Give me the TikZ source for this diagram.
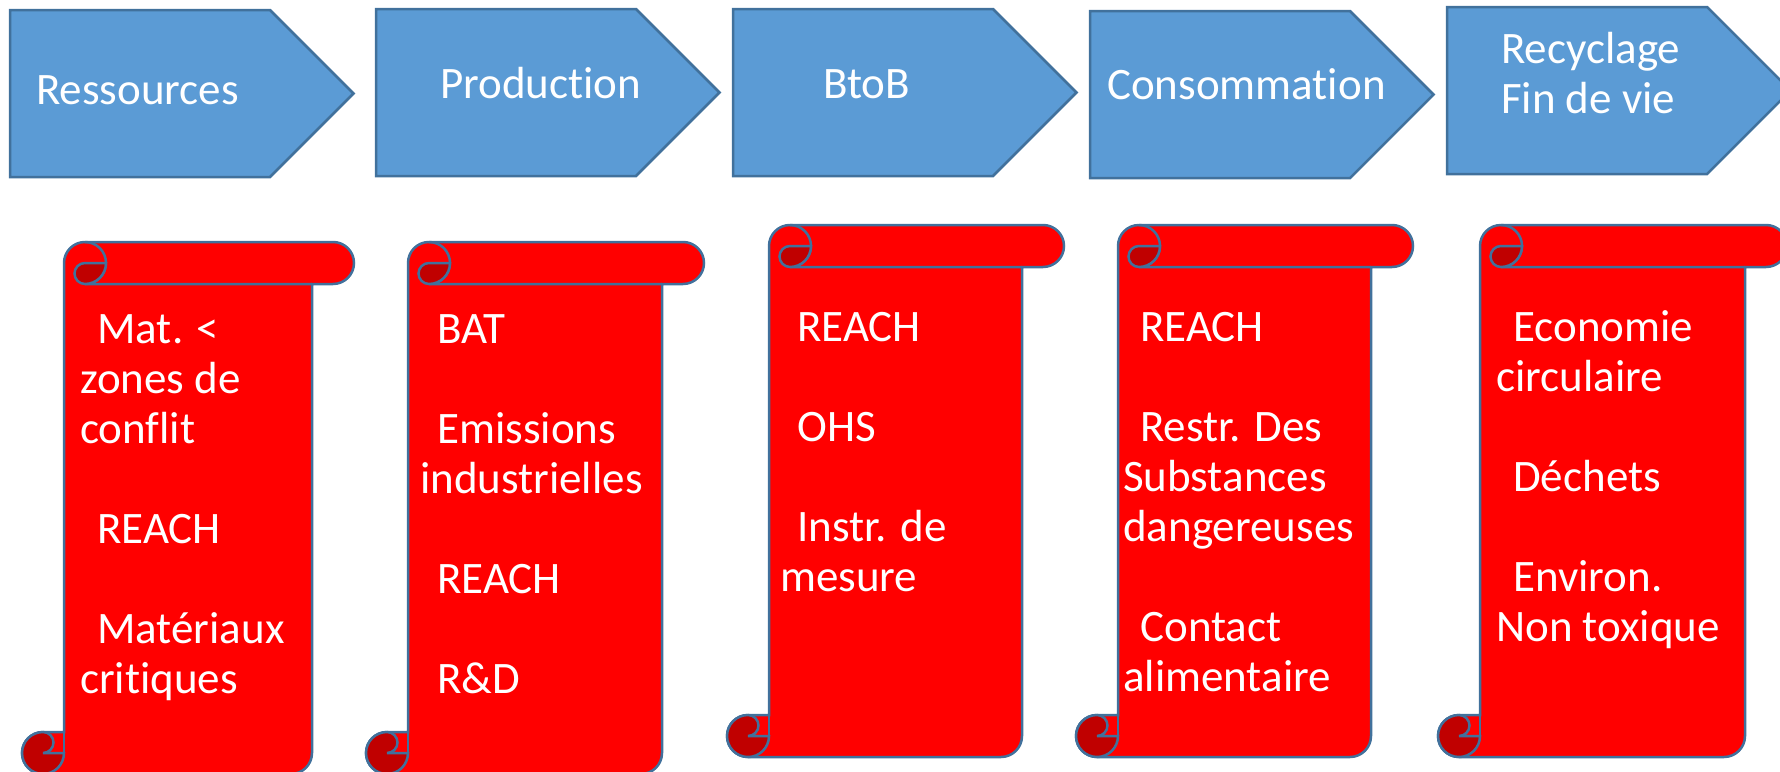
\documentclass[tikz,border=0pt]{standalone}
\usepackage{fontspec}
\setmainfont{Carlito}[Ligatures=NoCommon]
\usepackage{tikz}
\definecolor{stagefill}{HTML}{5B9BD5}
\definecolor{stageline}{HTML}{41719C}
\definecolor{scrollred}{HTML}{FF0000}
\definecolor{curlred}{HTML}{C00000}
\newcommand\pad{\hspace*{0.38em}}
\tikzset{
  stage/.style={draw=stageline, fill=stagefill, line width=2.5pt, line join=miter},
  scroll/.style={draw=stageline, fill=scrollred, line width=2.5pt},
  scrollline/.style={draw=stageline, line width=2.5pt},
  curl/.style={draw=stageline, fill=curlred, line width=2.5pt},
  label/.style={text=white, font=\fontsize{45}{50}\selectfont, inner sep=0pt, align=left, anchor=north west}
}
\begin{document}
\begin{tikzpicture}[x=1pt, y=-1pt]
	\useasboundingbox (0,0) rectangle (1780,771);
	% stages of the chain
	\foreach \i/\l/\t/\tx/\ty/\txt in {1/10/10/36/69/Ressources, 2/376/9/440/63/Production, 3/733/9/823/63/BtoB, 4/1090/11/1107/64/Consommation, 5/1447/7/1501/28/{Recyclage\\Fin de vie}}
	{
		\draw[stage] (\l,\t) -- ++(260,0) -- ++(83.5,83.5) -- ++(-83.5,83.5) -- ++(-260,0) -- cycle;
		\node[label] (head\i) at (\tx,\ty) {\strut\txt};
	}
	% scrolls
	\foreach \l/\r/\t/\b in {22/354/242/774, 366/704/242/774, 727/1064/225/757, 1076/1413/225/757, 1438/1787/225/757}
	{
		\draw[scroll] ({\l+42},{\t+21}) arc[start angle=180, end angle=270, radius=21]
			-- ({\r-21},\t) arc[start angle=270, end angle=450, radius=21]
			-- ({\r-42},{\t+42}) -- ({\r-42},{\b-21}) arc[start angle=0, end angle=90, radius=21]
			-- ({\l+21},\b) arc[start angle=90, end angle=270, radius=21]
			-- ({\l+42},{\b-42}) -- cycle;
		\draw[scrollline] ({\l+63},\t) arc[start angle=270, end angle=450, radius=21] -- ({\r-42},{\t+42});
		\draw[curl] ({\l+63},{\t+21}) arc[start angle=270, end angle=90, radius=10.5]
			arc[start angle=90, end angle=0, radius=21] -- cycle;
		\draw[curl] ({\l+21},{\b-42}) arc[start angle=270, end angle=450, radius=10.5]
			-- ({\l+42},{\b-21}) arc[start angle=0, end angle=90, radius=21]
			arc[start angle=90, end angle=270, radius=21] -- cycle;
		\draw[scrollline] ({\l+42},{\b-42}) -- ({\l+42},{\b-21});
	}
	% texts of the scrolls
	\foreach \i/\x/\y/\txt in {
		1/80/308/{\pad Mat. <\\zones de\\conflit\\ \\\pad REACH\\ \\\pad Matériaux\\critiques},
		2/420/308/{\pad BAT\\ \\\pad Emissions\\industrielles\\ \\\pad REACH\\ \\\pad R\&D},
		3/780/306/{\pad REACH\\ \\\pad OHS\\ \\\pad Instr. de\\mesure},
		4/1123/306/{\pad REACH\\ \\\pad Restr. Des\\Substances\\dangereuses\\ \\\pad Contact\\alimentaire},
		5/1496/306/{\pad Economie\\circulaire\\ \\\pad Déchets\\ \\\pad Environ.\\Non toxique}}
		\node[label] (list\i) at (\x,\y) {\strut\txt};
\end{tikzpicture}
\end{document}
